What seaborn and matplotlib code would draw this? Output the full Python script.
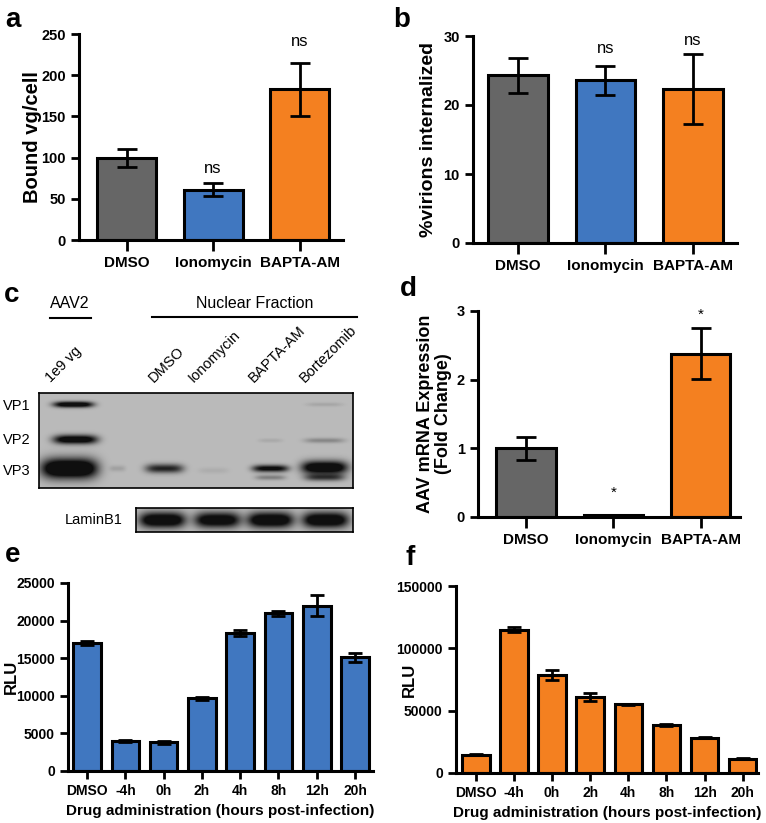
import numpy as np
import pandas as pd
import matplotlib
matplotlib.use("Agg")
import matplotlib.pyplot as plt
from matplotlib.lines import Line2D
import seaborn as sns

# ---- data ----
treat = ["DMSO", "Ionomycin", "BAPTA-AM"]
treat_colors = ["#666666", "#4077C0", "#F48020"]

bound_vg = [100, 61, 183]
bound_err = [11, 8, 32]

internalized = [24.3, 23.6, 22.3]
internalized_err = [2.5, 2.1, 5.1]

mrna_fold = [1.0, 0.03, 2.38]
mrna_err = [0.17, 0.005, 0.37]

timepoints = ["DMSO", "-4h", "0h", "2h", "4h", "8h", "12h", "20h"]
rlu_iono = [17000, 4000, 3800, 9650, 18400, 20950, 22000, 15100]
rlu_iono_err = [250, 100, 180, 180, 400, 350, 1400, 600]
rlu_bapta = [14700, 115000, 78500, 61200, 55000, 38400, 28200, 11400]
rlu_bapta_err = [300, 2200, 4000, 3100, 600, 1100, 500, 300]

# western blot bands: lane x, row y, half width, half height, strength (pixels of blot)
blot_x = [34, 36, 30, 78, 125, 174, 231, 231, 231, 285, 285, 285, 285]
blot_y = [11, 46, 75, 75, 75, 77, 75, 84, 47, 74, 84, 47, 11]
blot_wx = [20, 22, 28, 8, 19, 15, 18, 15, 12, 23, 20, 20, 18]
blot_wy = [3, 4.5, 10, 3, 4.5, 3, 3.5, 2.5, 2, 6.5, 3.5, 2.5, 2]
blot_s = [1.3, 1.3, 1.6, 0.15, 0.9, 0.08, 1.1, 0.35, 0.1, 1.4, 0.7, 0.3, 0.12]
lamin_x = [26, 81, 134, 189]
lamin_s = [1.4, 1.3, 1.4, 1.4]
lanes = ["1e9 vg", "DMSO", "Ionomycin", "BAPTA-AM", "Bortezomib"]

W, H = 766, 823
plt.rcParams["font.family"] = ["Liberation Sans", "DejaVu Sans"]
fig = plt.figure(figsize=(W / 100, H / 100), dpi=100)


def rect(l, t, r, b):
    return [l / W, 1 - b / H, (r - l) / W, (b - t) / H]


def style(ax, labx):
    sns.despine(ax=ax)
    for s in ["left", "bottom"]:
        ax.spines[s].set_linewidth(2.2)
    ax.tick_params(direction="out", width=2, length=6, labelsize=10.5)
    for lab in ax.get_xticklabels() + ax.get_yticklabels():
        lab.set_fontweight("bold")
    ax.yaxis.set_label_coords(labx, 0.5)


def bars(ax, cats, vals, errs, colors, width, cap):
    sns.barplot(x=cats, y=vals, hue=cats, palette=colors, legend=False, saturation=1,
                width=width, edgecolor="black", linewidth=2.2, ax=ax)
    ax.errorbar(range(len(cats)), vals, yerr=errs, fmt="none", ecolor="black",
                elinewidth=2, capsize=cap, capthick=2, zorder=5)
    ax.set_xlabel("")


# ---- a ----
ax = fig.add_axes(rect(79, 34, 343, 240))
bars(ax, treat, bound_vg, bound_err, treat_colors, 0.68, 7)
ax.set_xlim(-0.55, 2.5)
ax.set_ylim(0, 250)
ax.set_yticks([0, 50, 100, 150, 200, 250])
ax.set_ylabel("Bound vg/cell", fontsize=14.5, fontweight="bold")
style(ax, -0.14)
ax.tick_params(axis="x", labelsize=11, length=8)
for i, t in [(1, 78), (2, 232)]:
    ax.text(i, t, "ns", ha="center", va="bottom", fontsize=12)

# ---- b ----
ax = fig.add_axes(rect(473, 36, 737, 243))
bars(ax, treat, internalized, internalized_err, treat_colors, 0.68, 7)
ax.set_xlim(-0.51, 2.5)
ax.set_ylim(0, 30)
ax.set_yticks([0, 10, 20, 30])
ax.set_ylabel("%virions internalized", fontsize=14, fontweight="bold")
style(ax, -0.136)
ax.tick_params(axis="x", labelsize=11, length=8)
for i, t in [(1, 27.1), (2, 28.2)]:
    ax.text(i, t, "ns", ha="center", va="bottom", fontsize=12)

# ---- d ----
ax = fig.add_axes(rect(478, 311, 740, 517))
bars(ax, treat, mrna_fold, mrna_err, treat_colors, 0.68, 7)
ax.set_xlim(-0.55, 2.45)
ax.set_ylim(0, 3)
ax.set_yticks([0, 1, 2, 3])
ax.set_ylabel("AAV mRNA Expression\n(Fold Change)", fontsize=13,
              fontweight="bold", linespacing=1.1)
style(ax, -0.099)
ax.tick_params(axis="x", labelsize=11, length=8)
for i, t in [(1, 0.25), (2, 2.85)]:
    ax.text(i, t, "*", ha="center", va="bottom", fontsize=11)

# ---- e ----
ax = fig.add_axes(rect(68, 583, 373, 771))
bars(ax, timepoints, rlu_iono, rlu_iono_err, ["#4077C0"] * 8, 0.72, 5)
ax.set_xlim(-0.5, 7.47)
ax.set_ylim(0, 25000)
ax.set_yticks(range(0, 25001, 5000))
ax.set_ylabel("RLU", fontsize=12, fontweight="bold")
ax.set_xlabel("Drug administration (hours post-infection)", fontsize=11,
              fontweight="bold", labelpad=4)
style(ax, -0.16)
ax.tick_params(labelsize=10)

# ---- f ----
ax = fig.add_axes(rect(456, 586, 758, 773))
bars(ax, timepoints, rlu_bapta, rlu_bapta_err, ["#F48020"] * 8, 0.72, 5)
ax.set_xlim(-0.52, 7.4)
ax.set_ylim(0, 150000)
ax.set_yticks([0, 50000, 100000, 150000])
ax.set_ylabel("RLU", fontsize=12, fontweight="bold")
ax.set_xlabel("Drug administration (hours post-infection)", fontsize=11,
              fontweight="bold", labelpad=4)
style(ax, -0.129)
ax.tick_params(labelsize=10)


# ---- c: western blot ----
def blot_image(w, h, xs, ys, wxs, wys, ss, bg=0.73):
    yy, xx = np.mgrid[0:h, 0:w]
    d = np.zeros((h, w))
    for x0, y0, wx, wy, s in zip(xs, ys, wxs, wys, ss):
        d += s * np.exp(-((xx - x0) / wx) ** 4 - ((yy - y0) / wy) ** 2)
    d = np.clip(d, 0, 1)
    return bg - (bg - 0.06) * d


img = blot_image(314, 95, blot_x, blot_y, blot_wx, blot_wy, blot_s)
ax = fig.add_axes(rect(39, 393, 353, 488))
ax.imshow(img, cmap="gray", vmin=0, vmax=1, aspect="auto", interpolation="bilinear")
ax.set_xticks([])
ax.set_yticks([])
for s in ax.spines.values():
    s.set_linewidth(1.2)

lam = blot_image(217, 24, lamin_x, [12] * 4, [23] * 4, [7.5] * 4, lamin_s)
ax = fig.add_axes(rect(136, 508, 353, 532))
ax.imshow(lam, cmap="gray", vmin=0, vmax=1, aspect="auto", interpolation="bilinear")
ax.set_xticks([])
ax.set_yticks([])
for s in ax.spines.values():
    s.set_linewidth(1.2)

for name, y in [("VP1", 406), ("VP2", 440), ("VP3", 471)]:
    fig.text(3 / W, 1 - y / H, name, fontsize=10.5, va="center")
fig.text(65 / W, 1 - 520 / H, "LaminB1", fontsize=10.5, va="center")
fig.text(70 / W, 1 - 303 / H, "AAV2", fontsize=11.5, ha="center", va="center")
fig.text(255 / W, 1 - 303 / H, "Nuclear Fraction", fontsize=11.5, ha="center", va="center")
fig.add_artist(Line2D([50 / W, 91 / W], [1 - 318 / H] * 2, color="black", lw=1.5))
fig.add_artist(Line2D([152 / W, 357 / W], [1 - 317 / H] * 2, color="black", lw=1.5))
for name, x in zip(lanes, [53, 156, 196, 256, 307]):
    fig.text(x / W, 1 - 385 / H, name, fontsize=10.5, rotation=45,
             rotation_mode="anchor", ha="left", va="bottom")

# ---- panel letters ----
for letter, x, y in [("a", 5, 27), ("b", 393, 27), ("c", 4, 302), ("d", 400, 296),
                     ("e", 5, 562), ("f", 405, 565)]:
    fig.text(x / W, 1 - y / H, letter, fontsize=20, fontweight="bold", va="baseline")

fig.savefig("out.png", dpi=100)
